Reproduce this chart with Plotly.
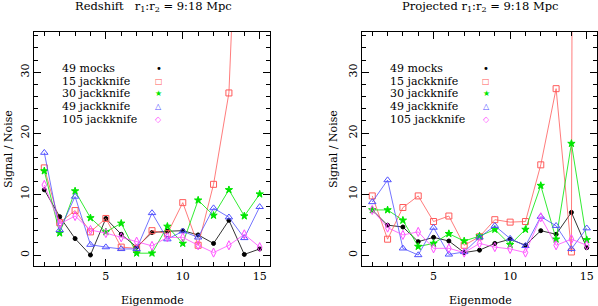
import plotly.graph_objects as go

# ---- data ----
eigenmode = list(range(1, 16))

mocks_L = [10.7, 6.3, 2.7, 0.0, 6.0, 3.4, 1.3, 3.7, 3.9, 4.0, 3.3, 1.9, 5.7, 0.1, 1.0]
jk15_L = [14.3, 5.3, 7.3, 3.8, 6.0, 1.3, 1.1, 4.0, 3.5, 8.6, 1.6, 11.6, 26.6, 105, 150]
jk30_L = [13.8, 3.6, 10.5, 6.1, 3.8, 5.2, 0.3, 0.3, 4.7, 1.9, 9.0, 6.5, 10.7, 6.4, 10.0]
jk49_L = [16.8, 4.1, 9.6, 1.7, 1.3, 1.0, 1.0, 6.9, 2.6, 3.9, 2.9, 7.7, 6.2, 2.8, 7.9]
jk105_L = [11.5, 5.1, 6.4, 4.1, 3.6, 2.9, 2.2, 1.5, 2.9, 2.9, 1.6, 0.4, 1.6, 3.4, 1.3]

mocks_R = [7.4, 4.9, 4.6, 2.2, 2.9, 2.3, 0.4, 0.8, 1.9, 2.6, 1.6, 4.0, 3.4, 7.0, 1.2]
jk15_R = [9.7, 2.6, 7.8, 9.7, 5.5, 6.4, 1.6, 3.0, 5.8, 5.4, 5.5, 14.8, 27.3, 0.5, 1000]
jk30_R = [7.4, 7.4, 5.7, 1.4, 1.9, 3.5, 2.3, 3.1, 4.2, 1.7, 4.2, 11.4, 2.6, 18.3, 2.5]
jk49_R = [8.7, 12.3, 1.1, 0.0, 4.5, 0.1, 0.5, 2.9, 4.8, 2.7, 1.5, 6.3, 4.8, 1.0, 4.4]
jk105_R = [7.4, 4.5, 3.3, 3.8, 1.1, 1.1, 0.4, 1.9, 1.3, 1.0, 0.4, 6.2, 1.6, 2.6, 1.6]

series_names = ["49 mocks", "15 jackknife", "30 jackknife", "49 jackknife", "105 jackknife"]
legend_glyphs = ["\u2022", "\u25a1", "\u2605", "\u25b3", "\u25c7"]
titles = ["Redshift   r<sub>1</sub>:r<sub>2</sub> = 9:18 Mpc",
          "Projected r<sub>1</sub>:r<sub>2</sub> = 9:18 Mpc"]
x_title = "Eigenmode"
y_title = "Signal / Noise"
x_ticks = [5, 10, 15]
y_ticks = [0, 10, 20, 30]

# ---- styles ----
colors = ["#000000", "#ff5a5a", "#00e600", "#5050ff", "#ff4dff"]
symbols = ["circle", "square-open", "star", "triangle-up-open", "diamond-tall-open"]
sizes = [4, 6, 5.5, 6.5, 6.5]
FONT = "DejaVu Serif"

W, H = 598, 306
T, B = 32, 266  # plot area top / bottom in px
PH = B - T

def px(xp):
    return xp / W

def py(yp):
    return (B - yp) / PH

fig = go.Figure()

panels = [
    (["x", "y"], [mocks_L, jk15_L, jk30_L, jk49_L, jk105_L]),
    (["x2", "y2"], [mocks_R, jk15_R, jk30_R, jk49_R, jk105_R]),
]
for (xa, ya), data in panels:
    for i, vals in enumerate(data):
        fig.add_trace(go.Scatter(
            x=eigenmode, y=vals, mode="lines+markers", xaxis=xa, yaxis=ya,
            line=dict(color=colors[i], width=0.8),
            marker=dict(symbol=symbols[i], size=sizes[i], color=colors[i],
                        line=dict(color=colors[i], width=1)),
            showlegend=False, cliponaxis=True))

xrange_ = [0.33, 15.67]
yrange_ = [-1.8, 36.6]

axis_common = dict(showgrid=False, zeroline=False, showline=True, linecolor="#000",
                   linewidth=1, mirror="ticks", ticks="inside", ticklen=7,
                   tickcolor="#000", tickwidth=1, automargin=False,
                   tickfont=dict(family=FONT, size=11, color="#000"))
xminor = dict(dtick=1, tick0=0, ticklen=4, ticks="inside", tickcolor="#000")
yminor = dict(dtick=2, tick0=0, ticklen=4, ticks="inside", tickcolor="#000")

fig.update_layout(
    width=W, height=H, margin=dict(l=0, r=0, t=T, b=H - B, autoexpand=False),
    paper_bgcolor="white", plot_bgcolor="white",
    font=dict(family=FONT, size=11, color="#000"),
    xaxis=dict(domain=[34 / W, 270 / W], range=xrange_, tickvals=x_ticks,
               minor=xminor, anchor="y", **axis_common),
    yaxis=dict(domain=[0, 1], range=yrange_, tickvals=y_ticks, tickangle=-90,
               minor=yminor, anchor="x", **axis_common),
    xaxis2=dict(domain=[362 / W, 597 / W], range=xrange_, tickvals=x_ticks,
                minor=xminor, anchor="y2", **axis_common),
    yaxis2=dict(domain=[0, 1], range=yrange_, tickvals=y_ticks, tickangle=-90,
                minor=yminor, anchor="x2", **axis_common),
)

annotations = []
txt = dict(showarrow=False, xanchor="center", yanchor="middle",
           font=dict(family=FONT, size=11, color="#000"))
# titles
for cx, t in [(153, titles[0]), (480, titles[1])]:
    annotations.append(dict(text=t, xref="paper", yref="paper", x=px(cx), y=py(7),
                            showarrow=False, xanchor="center", yanchor="middle",
                            font=dict(family=FONT, size=11.5, color="#000")))
# axis titles
for cx in [152, 480]:
    annotations.append(dict(text=x_title, xref="paper", yref="paper", x=px(cx), y=py(300), **txt))
for cx in [8, 333]:
    annotations.append(dict(text=y_title, xref="paper", yref="paper", x=px(cx), y=py(149),
                            textangle=-90, **txt))
# legends (in data coordinates)
for xa, ya in [("x", "y"), ("x2", "y2")]:
    for i, name in enumerate(series_names):
        yy = 30.6 - i * 2.08
        annotations.append(dict(text=name, xref=xa, yref=ya, x=2.0, y=yy, xanchor="left",
                                yanchor="middle", showarrow=False,
                                font=dict(family=FONT, size=11, color="#000")))
        annotations.append(dict(text=legend_glyphs[i], xref=xa, yref=ya, x=8.45, y=yy,
                                xanchor="center", yanchor="middle", showarrow=False,
                                font=dict(family="DejaVu Sans", size=8 if i else 10,
                                          color=colors[i])))
fig.update_layout(annotations=annotations)

fig.write_html("out.html", config={"displayModeBar": False},
               post_script="document.body.style.margin='0';document.body.style.overflow='hidden';")
